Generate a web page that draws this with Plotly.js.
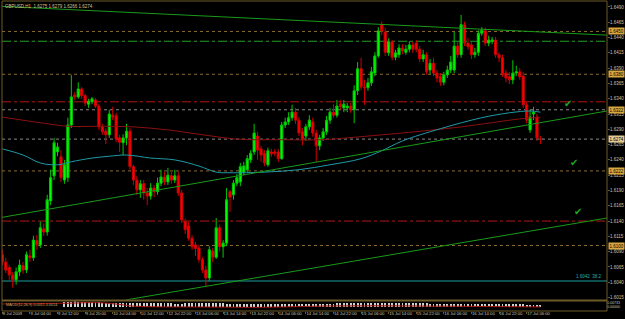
<!DOCTYPE html>
<html><head><meta charset="utf-8">
<script src="https://cdn.plot.ly/plotly-3.0.1.min.js"></script>
<style>html,body{margin:0;padding:0;background:#000;}#chart{width:625px;height:319px;}</style>
</head><body><div id="chart"></div>
<script>
const symbolTitle = "GBPUSD,H1  1.6275 1.6279 1.6266 1.6274";

const opens = [
1.6085,1.6073,1.6064,1.6052,1.6044,1.6057,1.6067,1.6060,1.6083,1.6080,
1.6108,1.6101,1.6127,1.6122,1.6173,1.6214,1.6253,1.6245,1.6207,1.6211,
1.6297,1.6346,1.6343,1.6356,1.6345,1.6331,1.6335,1.6338,1.6328,1.6294,
1.6287,1.6281,1.6313,1.6312,1.6276,1.6268,1.6276,1.6287,1.6229,1.6207,
1.6191,1.6201,1.6186,1.6181,1.6194,1.6188,1.6202,1.6212,1.6204,1.6214,
1.6207,1.6214,1.6186,1.6139,1.6132,1.6112,1.6101,1.6096,1.6077,1.6060,
1.6047,1.6091,1.6081,1.6129,1.6098,1.6104,1.6188,1.6183,1.6202,1.6204,
1.6220,1.6224,1.6240,1.6253,1.6279,1.6258,1.6251,1.6232,1.6253,1.6253,
1.6253,1.6242,1.6297,1.6302,1.6309,1.6318,1.6305,1.6286,1.6279,1.6294,
1.6302,1.6284,1.6263,1.6276,1.6286,1.6305,1.6318,1.6313,1.6331,1.6325,
1.6325,1.6328,1.6322,1.6353,1.6389,1.6359,1.6358,1.6366,1.6382,1.6410,
1.6461,1.6449,1.6415,1.6433,1.6408,1.6412,1.6423,1.6416,1.6421,1.6428,
1.6431,1.6421,1.6405,1.6412,1.6387,1.6398,1.6382,1.6376,1.6367,1.6379,
1.6387,1.6387,1.6426,1.6412,1.6461,1.6431,1.6428,1.6412,1.6416,1.6447,
1.6451,1.6431,1.6434,1.6436,1.6412,1.6407,1.6382,1.6376,1.6371,1.6382,
1.6384,1.6377,1.6330,1.6289,1.6315,1.6310,1.6275];
const highs = [
1.6093,1.6080,1.6068,1.6057,1.6064,1.6077,1.6073,1.6090,1.6093,1.6116,
1.6117,1.6139,1.6136,1.6183,1.6224,1.6276,1.6268,1.6256,1.6240,1.6309,
1.6379,1.6351,1.6367,1.6359,1.6348,1.6340,1.6343,1.6341,1.6331,1.6299,
1.6292,1.6322,1.6327,1.6317,1.6281,1.6282,1.6299,1.6292,1.6232,1.6214,
1.6207,1.6207,1.6194,1.6202,1.6199,1.6211,1.6224,1.6220,1.6227,1.6220,
1.6224,1.6220,1.6191,1.6144,1.6139,1.6117,1.6106,1.6101,1.6081,1.6067,
1.6099,1.6096,1.6145,1.6134,1.6109,1.6194,1.6191,1.6207,1.6217,1.6235,
1.6237,1.6248,1.6256,1.6299,1.6286,1.6263,1.6256,1.6260,1.6258,1.6258,
1.6258,1.6302,1.6309,1.6318,1.6330,1.6325,1.6310,1.6292,1.6299,1.6313,
1.6309,1.6289,1.6281,1.6292,1.6312,1.6325,1.6331,1.6338,1.6338,1.6338,
1.6333,1.6333,1.6362,1.6400,1.6407,1.6371,1.6374,1.6392,1.6416,1.6457,
1.6466,1.6456,1.6439,1.6436,1.6420,1.6429,1.6429,1.6428,1.6434,1.6433,
1.6436,1.6426,1.6420,1.6416,1.6405,1.6407,1.6387,1.6382,1.6384,1.6394,
1.6410,1.6449,1.6433,1.6477,1.6466,1.6439,1.6433,1.6423,1.6452,1.6457,
1.6456,1.6443,1.6441,1.6441,1.6416,1.6412,1.6387,1.6384,1.6403,1.6394,
1.6390,1.6384,1.6335,1.6322,1.6327,1.6315,1.6279];
const lows = [
1.6068,1.6055,1.6044,1.6031,1.6036,1.6050,1.6054,1.6055,1.6073,1.6075,
1.6093,1.6096,1.6116,1.6116,1.6166,1.6207,1.6246,1.6204,1.6201,1.6204,
1.6292,1.6338,1.6340,1.6340,1.6328,1.6325,1.6331,1.6325,1.6289,1.6281,
1.6266,1.6276,1.6305,1.6269,1.6253,1.6248,1.6264,1.6224,1.6199,1.6183,
1.6178,1.6175,1.6166,1.6175,1.6179,1.6183,1.6197,1.6199,1.6199,1.6201,
1.6202,1.6181,1.6137,1.6119,1.6108,1.6093,1.6083,1.6072,1.6055,1.6032,
1.6042,1.6073,1.6078,1.6090,1.6080,1.6099,1.6155,1.6175,1.6197,1.6197,
1.6215,1.6220,1.6235,1.6248,1.6240,1.6237,1.6230,1.6229,1.6245,1.6246,
1.6237,1.6240,1.6292,1.6297,1.6304,1.6299,1.6279,1.6264,1.6271,1.6289,
1.6278,1.6237,1.6256,1.6271,1.6281,1.6299,1.6309,1.6309,1.6322,1.6318,
1.6318,1.6317,1.6300,1.6346,1.6354,1.6330,1.6353,1.6361,1.6377,1.6407,
1.6444,1.6410,1.6410,1.6403,1.6403,1.6407,1.6413,1.6412,1.6416,1.6415,
1.6416,1.6400,1.6400,1.6379,1.6380,1.6377,1.6367,1.6361,1.6362,1.6374,
1.6382,1.6382,1.6407,1.6407,1.6426,1.6420,1.6405,1.6407,1.6410,1.6443,
1.6426,1.6426,1.6429,1.6407,1.6400,1.6376,1.6367,1.6364,1.6364,1.6377,
1.6371,1.6325,1.6300,1.6284,1.6305,1.6271,1.6266];
const closes = [
1.6073,1.6060,1.6052,1.6044,1.6057,1.6068,1.6060,1.6085,1.6080,1.6109,
1.6101,1.6129,1.6122,1.6175,1.6211,1.6268,1.6261,1.6211,1.6232,1.6297,
1.6343,1.6343,1.6356,1.6345,1.6333,1.6336,1.6340,1.6328,1.6294,1.6286,
1.6281,1.6315,1.6310,1.6274,1.6269,1.6276,1.6287,1.6229,1.6207,1.6191,
1.6201,1.6186,1.6181,1.6194,1.6188,1.6202,1.6212,1.6204,1.6215,1.6207,
1.6214,1.6186,1.6142,1.6126,1.6112,1.6098,1.6095,1.6077,1.6060,1.6047,
1.6093,1.6081,1.6129,1.6098,1.6104,1.6175,1.6179,1.6202,1.6211,1.6229,
1.6230,1.6242,1.6251,1.6284,1.6256,1.6248,1.6235,1.6255,1.6250,1.6251,
1.6242,1.6297,1.6302,1.6309,1.6318,1.6305,1.6284,1.6273,1.6294,1.6305,
1.6284,1.6263,1.6276,1.6286,1.6305,1.6318,1.6313,1.6328,1.6327,1.6331,
1.6328,1.6322,1.6353,1.6389,1.6359,1.6358,1.6366,1.6384,1.6410,1.6451,
1.6451,1.6416,1.6433,1.6408,1.6415,1.6423,1.6418,1.6421,1.6428,1.6421,
1.6421,1.6405,1.6412,1.6384,1.6398,1.6382,1.6374,1.6367,1.6379,1.6387,
1.6400,1.6426,1.6412,1.6461,1.6431,1.6425,1.6412,1.6416,1.6447,1.6452,
1.6431,1.6436,1.6436,1.6412,1.6407,1.6380,1.6374,1.6371,1.6382,1.6384,
1.6376,1.6330,1.6305,1.6310,1.6318,1.6276,1.6274];

const tickIdx = [0,8,16,24,32,40,48,56,64,72,80,88,96,104,112,120,128,136,144,152];
const tickLabels = ["8 Jul 2009","9 Jul 04:00","9 Jul 12:00","9 Jul 20:00","10 Jul 04:00","10 Jul 12:00",
 "12 Jul 22:00","13 Jul 06:00","13 Jul 14:00","13 Jul 22:00","14 Jul 06:00","14 Jul 14:00","14 Jul 22:00",
 "15 Jul 06:00","15 Jul 14:00","15 Jul 22:00","16 Jul 06:00","16 Jul 14:00","16 Jul 22:00","17 Jul 06:00"];
const priceTicks = [1.6015,1.6040,1.6065,1.6090,1.6115,1.6140,1.6165,1.6190,1.6215,1.6240,
 1.6265,1.6290,1.6315,1.6340,1.6365,1.6390,1.6415,1.6440,1.6465,1.6490];

const maSlowIdx = [0,12,19,29,38,48,57,68,81,93,100,110,116,133,150,156];
const maSlowVal = [1.6310,1.6300,1.6295,1.6295,1.6294,1.6289,1.6282,1.6274,1.6273,1.6273,1.6276,1.6281,1.6284,1.6294,1.6307,1.6310];
const maFastIdx = [0,6,11,16,20,26,31,36,43,50,57,62,66,76,86,95,104,110,116,127,139,147,153,156];
const maFastVal = [1.6258,1.6248,1.6235,1.6232,1.6237,1.6243,1.6246,1.6248,1.6243,1.6240,1.6230,1.6220,1.6219,1.6220,1.6224,1.6232,1.6242,1.6255,1.6271,1.6291,1.6309,1.6317,1.6320,1.6318];

const trendTopIdx = [-0.1,175.3], trendTopPrice = [1.6491,1.6444];
const trendMidIdx = [-0.1,175.3], trendMidPrice = [1.6146,1.6320];
const trendLowIdx = [35.8,175.3], trendLowPrice = [1.6011,1.6145];

const levelPrices = [1.6450,1.6434,1.6380,1.6335,1.6322,1.6274,1.6222,1.6140,1.6100,1.6042];
const markedPrices = [1.6450,1.6380,1.6322,1.6274,1.6222,1.6100];
const fiboText = "1.6042  38.2";
const checkIdx = [163.9,165.7,166.8];
const checkPrice = [1.6333,1.6235,1.6155];

const indicator = [null,null,null,null,null,null,null,null,null,null,null,null,null,null,null,null,null,null,
0.0075,0.0080,0.0080,0.0085,0.0080,0.0080,0.0075,0.0075,0.0070,0.0070,0.0070,0.0065,0.0065,
0.0065,0.0060,0.0060,0.0060,0.0060,0.0055,0.0055,0.0055,0.0055,0.0055,
0.0060,0.0060,0.0060,0.0055,0.0055,0.0055,0.0055,0.0055,0.0055,0.0050,0.0050,0.0050,0.0055,0.0055,0.0055,0.0060,0.0060,0.0060,0.0060,0.0060,
0.0060,0.0055,0.0055,0.0055,0.0050,0.0050,0.0050,0.0050,0.0050,0.0050,0.0050,0.0050,0.0050,0.0050,0.0050,0.0050,0.0050,0.0050,0.0050,0.0050,
0.0050,0.0050,0.0050,0.0050,0.0050,0.0050,0.0050,0.0050,0.0050,0.0050,0.0050,0.0050,0.0050,0.0050,0.0050,0.0050,0.0055,0.0055,0.0055,0.0055,
0.0055,0.0060,0.0060,0.0060,0.0060,0.0060,0.0060,0.0060,0.0065,0.0065,0.0065,0.0065,0.0060,0.0060,0.0060,0.0060,0.0060,0.0055,0.0055,0.0055,
0.0055,0.0055,0.0055,0.0050,0.0050,0.0050,0.0050,0.0050,0.0050,0.0050,0.0050,0.0050,0.0050,0.0050,0.0050,0.0050,0.0050,0.0050,0.0050,0.0050,
0.0050,0.0050,0.0045,0.0045,0.0045,0.0045,0.0040,0.0040,0.0040,0.0040,0.0040,0.0035,0.0035,0.0035,0.0030,0.0030];
const signalIdx = [0,10,20,28,34,38,45,55,65,75,85,95,105,115,125,135,145,156];
const signalVal = [0.0048,0.0052,0.0060,0.0067,0.0040,0.0015,0.0005,0.0003,0.0000,-0.0003,0.0008,0.0018,0.0020,0.0019,0.0015,0.0012,0.0008,0.0004];
const indicatorText = "MACD(12,26,9) 0.0011 0.0024";

const barIdx = closes.map((_, i) => i);
const frame = '#6e5a28';
const axisFont = {family:'Liberation Sans', size:4.5, color:'#c8c4b4'};

const levelStyle = [
 {color:'#8c6c2c',dash:'dot'},{color:'#22a022',dash:'dashdot'},{color:'#8c6c2c',dash:'dot'},
 {color:'#b01818',dash:'dashdot'},{color:'#8a8a8a',dash:'dot'},{color:'#8a8a8a',dash:'dot'},
 {color:'#8c6c2c',dash:'dot'},{color:'#b01818',dash:'dashdot'},{color:'#8c6c2c',dash:'dot'},
 {color:'#1c9c9c',dash:'solid'}];

const shapes = levelPrices.map((p, k) => ({type:'line', xref:'paper', x0:0, x1:1, yref:'y', y0:p, y1:p,
  line:{color:levelStyle[k].color, width:1, dash:levelStyle[k].dash}, layer:'below'}));
shapes.push({type:'rect', xref:'paper', yref:'paper', x0:0, x1:1, y0:0, y1:1, line:{color:frame, width:1}});
shapes.push({type:'line', xref:'paper', yref:'paper', x0:0, x1:1, y0:0.034, y1:0.034, line:{color:frame, width:2}});

const annotations = [
 {xref:'paper', yref:'paper', x:0, y:1, xanchor:'left', yanchor:'top', xshift:1, yshift:-1, showarrow:false,
  text:symbolTitle, font:{family:'Liberation Sans', size:4.5, color:'#d4c494'}},
 {xref:'paper', yref:'paper', x:0, y:0.031, xanchor:'left', yanchor:'top', xshift:2, showarrow:false,
  text:indicatorText, font:{family:'Liberation Sans', size:3.8, color:'#c8a860'}},
 {xref:'paper', yref:'y', x:0.995, y:levelPrices[9], xanchor:'right', yanchor:'bottom', showarrow:false,
  text:fiboText, font:{family:'Liberation Sans', size:4.5, color:'#20b0b0'}}
];
markedPrices.forEach((p, k) => annotations.push({xref:'paper', yref:'y', x:1, y:p, xanchor:'left', xshift:1,
  showarrow:false, text:p.toFixed(4), bgcolor:(p === closes[closes.length-1] ? '#e2cc94' : '#d8a840'),
  borderpad:0.5, font:{family:'Liberation Sans', size:4.5, color:'#000'}}));
checkIdx.forEach((x, k) => annotations.push({xref:'x', yref:'y', x:x, y:checkPrice[k], showarrow:false,
  text:'✔', font:{family:'DejaVu Sans', size:10, color:'#20a820'}}));

const traces = [
 {type:'bar', x:barIdx, y:indicator, xaxis:'x', yaxis:'y2', width:0.55, marker:{color:'#d0d0d0', line:{width:0}}, hoverinfo:'skip'},
 {type:'scatter', mode:'lines', x:signalIdx, y:signalVal, xaxis:'x', yaxis:'y2', line:{color:'#a01010', width:1, shape:'spline'}, hoverinfo:'skip'},
 {type:'scatter', mode:'lines', x:maSlowIdx, y:maSlowVal, line:{color:'#8c1010', width:1, shape:'spline'}, hoverinfo:'skip'},
 {type:'scatter', mode:'lines', x:maFastIdx, y:maFastVal, line:{color:'#1e9aa8', width:1, shape:'spline'}, hoverinfo:'skip'},
 {type:'scatter', mode:'lines', x:trendTopIdx, y:trendTopPrice, line:{color:'#1a9a1a', width:1}, hoverinfo:'skip'},
 {type:'scatter', mode:'lines', x:trendMidIdx, y:trendMidPrice, line:{color:'#1a9a1a', width:1}, hoverinfo:'skip'},
 {type:'scatter', mode:'lines', x:trendLowIdx, y:trendLowPrice, line:{color:'#1a9a1a', width:1}, hoverinfo:'skip'},
 {type:'candlestick', x:barIdx, open:opens, high:highs, low:lows, close:closes, xaxis:'x', yaxis:'y',
  increasing:{line:{color:'#00c800', width:1}, fillcolor:'#00ff00'},
  decreasing:{line:{color:'#d00000', width:1}, fillcolor:'#ff0000'}, whiskerwidth:0, hoverinfo:'skip'}
];

const layout = {
 width:625, height:319, margin:{l:2, r:18, t:1, b:8, pad:0},
 paper_bgcolor:'#000', plot_bgcolor:'#000', showlegend:false, boxgap:0.1, bargap:0,
 xaxis:{range:[-0.1,175.3], anchor:'y2', rangeslider:{visible:false}, tickmode:'array', tickvals:tickIdx,
  ticktext:tickLabels, tickangle:0, ticks:'outside', ticklen:2, tickcolor:frame, tickfont:{family:'Liberation Sans', size:4.2, color:'#c8c4b4'},
  ticklabelstandoff:-2, ticklabelposition:'outside right', showgrid:false, zeroline:false, showline:false, fixedrange:true},
 yaxis:{domain:[0.036,1], range:[1.60112,1.64998], side:'right', anchor:'x', tickmode:'array',
  tickvals:priceTicks, ticktext:priceTicks.map(v => v.toFixed(4)), ticks:'outside', ticklen:2, ticklabelstandoff:-1,
  tickcolor:frame, tickfont:axisFont, showgrid:false, zeroline:false, showline:false, fixedrange:true},
 yaxis2:{domain:[0,0.031], range:[-0.0057,0.0086], side:'right', anchor:'x', tickmode:'array',
  tickvals:[0.0073,0], ticktext:['0.00733','0.00000'], ticks:'', ticklabelstandoff:-1,
  tickfont:{family:'Liberation Sans', size:3.6, color:'#c8c4b4'},
  showgrid:false, zeroline:false, showline:false, fixedrange:true},
 shapes:shapes, annotations:annotations
};

Plotly.newPlot('chart', traces, layout, {staticPlot:true, displayModeBar:false});
</script></body></html>
